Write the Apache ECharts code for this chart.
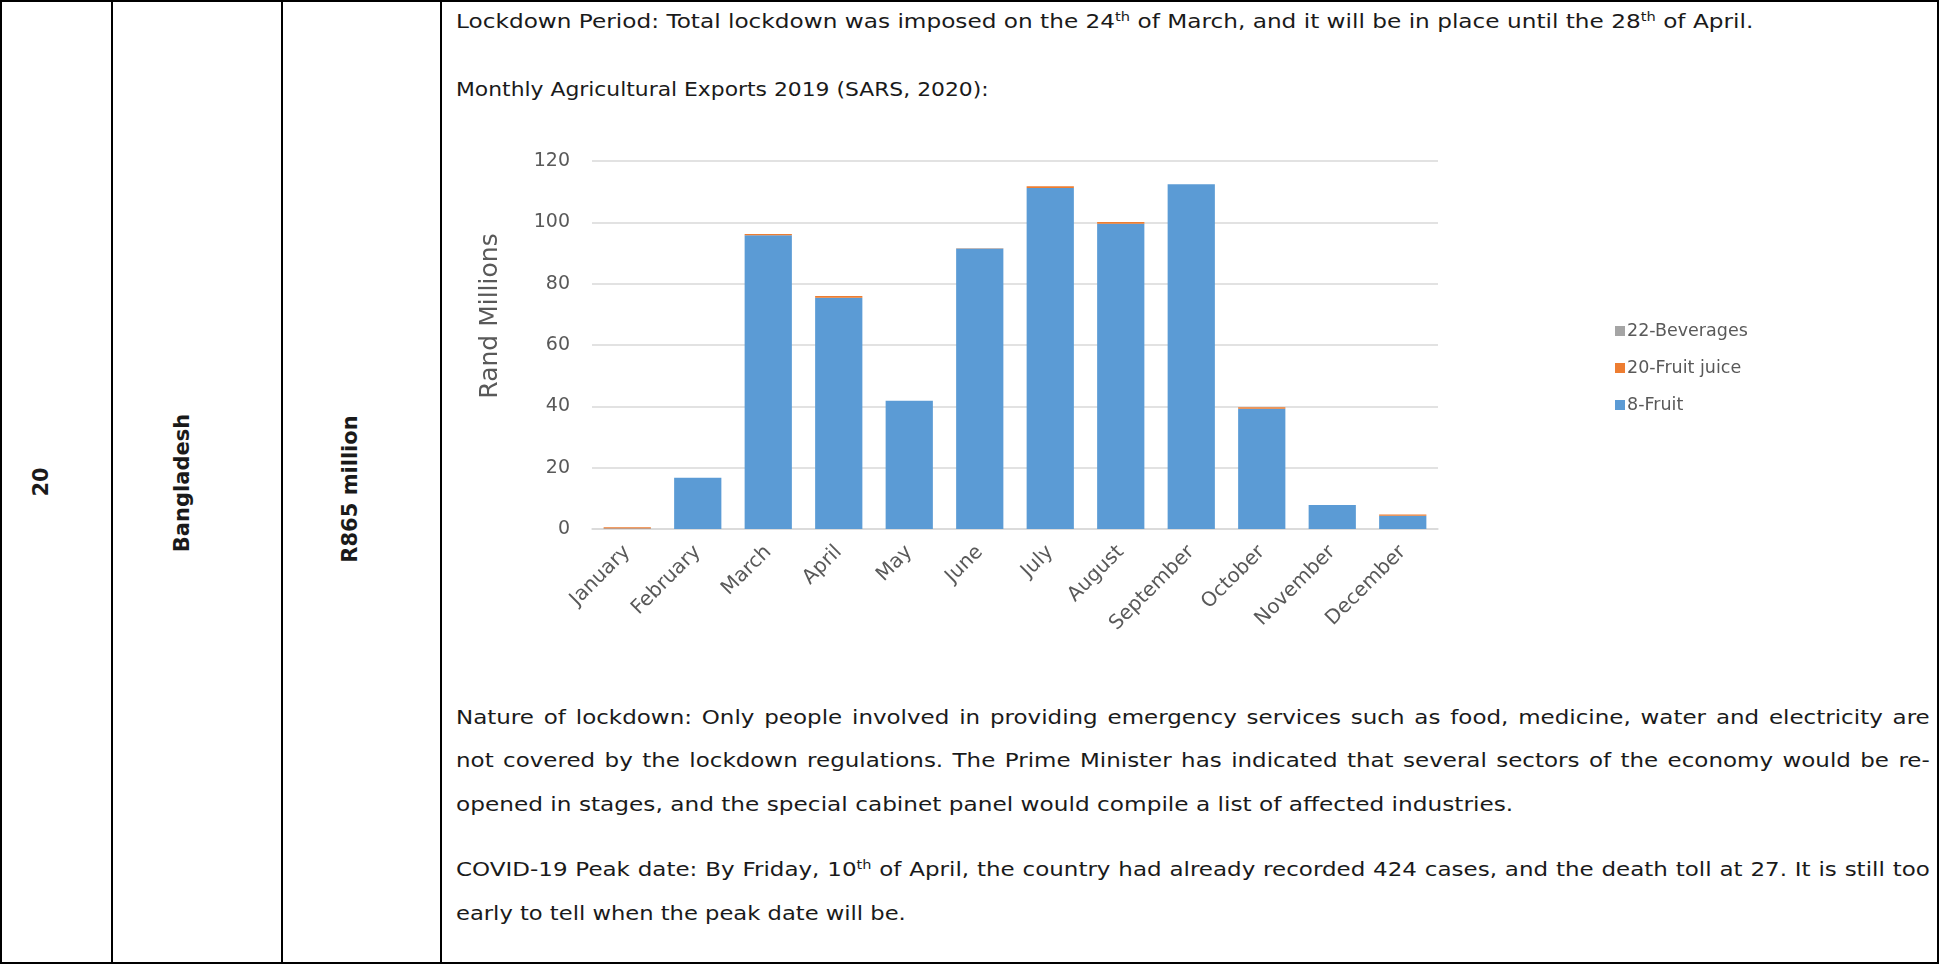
<!DOCTYPE html>
<html>
<head>
<meta charset="utf-8">
<script src="https://cdn.jsdelivr.net/npm/echarts@6/dist/echarts.min.js"></script>
<style>
  html, body { margin:0; padding:0; width:1939px; height:964px; background:#fff; overflow:hidden; }
  body { position:relative; font-family:"DejaVu Sans", sans-serif; color:#1a1a1a; }
  .vl { position:absolute; top:0; width:2px; height:964px; background:#000; }
  .hl { position:absolute; left:0; width:1939px; height:2px; background:#000; }
  .rot { position:absolute; transform:translate(-50%,-50%) rotate(-90deg); font-weight:bold; font-size:21px; white-space:nowrap; }
  .line { position:absolute; left:456px; font-size:19px; white-space:nowrap; line-height:24px; transform-origin:0 50%; transform:translateY(-50%) scaleX(1.21); }
  .just { width:1218px; text-align:justify; text-align-last:justify; white-space:normal; }
  sup { font-size:12px; vertical-align:7px; line-height:0; }
  #chart { position:absolute; left:0; top:0; width:1939px; height:964px; }
</style>
</head>
<body>
<div class="hl" style="top:0"></div>
<div class="hl" style="top:962px"></div>
<div class="vl" style="left:0"></div>
<div class="vl" style="left:111px"></div>
<div class="vl" style="left:281px"></div>
<div class="vl" style="left:440px"></div>
<div class="vl" style="left:1937px"></div>

<div class="rot" style="left:41px; top:482px;">20</div>
<div class="rot" style="left:182px; top:483px;">Bangladesh</div>
<div class="rot" style="left:350px; top:489px;">R865 million</div>

<div class="line" style="top:21px; transform:translateY(-50%) scaleX(1.221)">Lockdown Period: Total lockdown was imposed on the 24<sup>th</sup> of March, and it will be in place until the 28<sup>th</sup> of April.</div>
<div class="line" style="top:89px; transform:translateY(-50%) scaleX(1.15)">Monthly Agricultural Exports 2019 (SARS, 2020):</div>

<div class="line just" style="top:717px">Nature of lockdown: Only people involved in providing emergency services such as food, medicine, water and electricity are</div>
<div class="line just" style="top:760px">not covered by the lockdown regulations. The Prime Minister has indicated that several sectors of the economy would be re-</div>
<div class="line" style="top:804px; transform:translateY(-50%) scaleX(1.222)">opened in stages, and the special cabinet panel would compile a list of affected industries.</div>
<div class="line just" style="top:869px">COVID-19 Peak date: By Friday, 10<sup>th</sup> of April, the country had already recorded 424 cases, and the death toll at 27. It is still too</div>
<div class="line" style="top:913px; transform:translateY(-50%) scaleX(1.191)">early to tell when the peak date will be.</div>

<div id="chart"></div>
<script>
const categories = ["January","February","March","April","May","June","July","August","September","October","November","December"];
const fruit = [0.2, 16.7, 95.8, 75.4, 41.8, 91.5, 111.2, 99.5, 112.4, 39.2, 7.8, 4.3];
const fruitJuice = [0.35, 0.05, 0.4, 0.6, 0.05, 0.05, 0.6, 0.6, 0.05, 0.5, 0.05, 0.4];
const beverages = [0, 0, 0, 0, 0, 0, 0, 0, 0, 0, 0, 0];
const yTicks = { min: 0, max: 120, interval: 20 };
const seriesNames = ["8-Fruit", "20-Fruit juice", "22-Beverages"];

const font = '"DejaVu Sans", sans-serif';
const chart = echarts.init(document.getElementById('chart'), null, { renderer: 'canvas' });
chart.setOption({
  backgroundColor: 'transparent',
  animation: false,
  grid: { left: 592, right: 501, top: 161, bottom: 435 },
  legend: {
    orient: 'vertical',
    left: 1610,
    top: 316,
    data: [seriesNames[2], seriesNames[1], seriesNames[0]],
    icon: 'rect',
    itemWidth: 10,
    itemHeight: 10,
    itemGap: 17,
    textStyle: { fontFamily: font, fontSize: 17.5, color: '#595959', lineHeight: 20, padding: [0,0,0,-3] },
    selectedMode: false
  },
  xAxis: {
    type: 'category',
    data: categories,
    axisTick: { show: false },
    axisLine: { lineStyle: { color: '#D9D9D9', width: 1.5 } },
    axisLabel: { rotate: 45, interval: 0, margin: 20, fontFamily: font, fontSize: 20, color: '#595959' }
  },
  yAxis: {
    type: 'value',
    min: yTicks.min, max: yTicks.max, interval: yTicks.interval,
    name: 'Rand Millions',
    nameLocation: 'middle',
    nameRotate: 90,
    nameGap: 89,
    nameTextStyle: { fontFamily: font, fontSize: 25, color: '#595959', padding: [0, 0, 0, 58] },
    axisLine: { show: false },
    axisTick: { show: false },
    splitLine: { lineStyle: { color: '#D9D9D9', width: 1.5 } },
    axisLabel: { margin: 22, fontFamily: font, fontSize: 19, color: '#595959' }
  },
  series: [
    { name: seriesNames[0], type: 'bar', stack: 'total', data: fruit, barCategoryGap: '33%', itemStyle: { color: '#5B9BD5' } },
    { name: seriesNames[1], type: 'bar', stack: 'total', data: fruitJuice, itemStyle: { color: '#ED7D31' } },
    { name: seriesNames[2], type: 'bar', stack: 'total', data: beverages, itemStyle: { color: '#A5A5A5' } }
  ]
});
</script>
</body>
</html>
